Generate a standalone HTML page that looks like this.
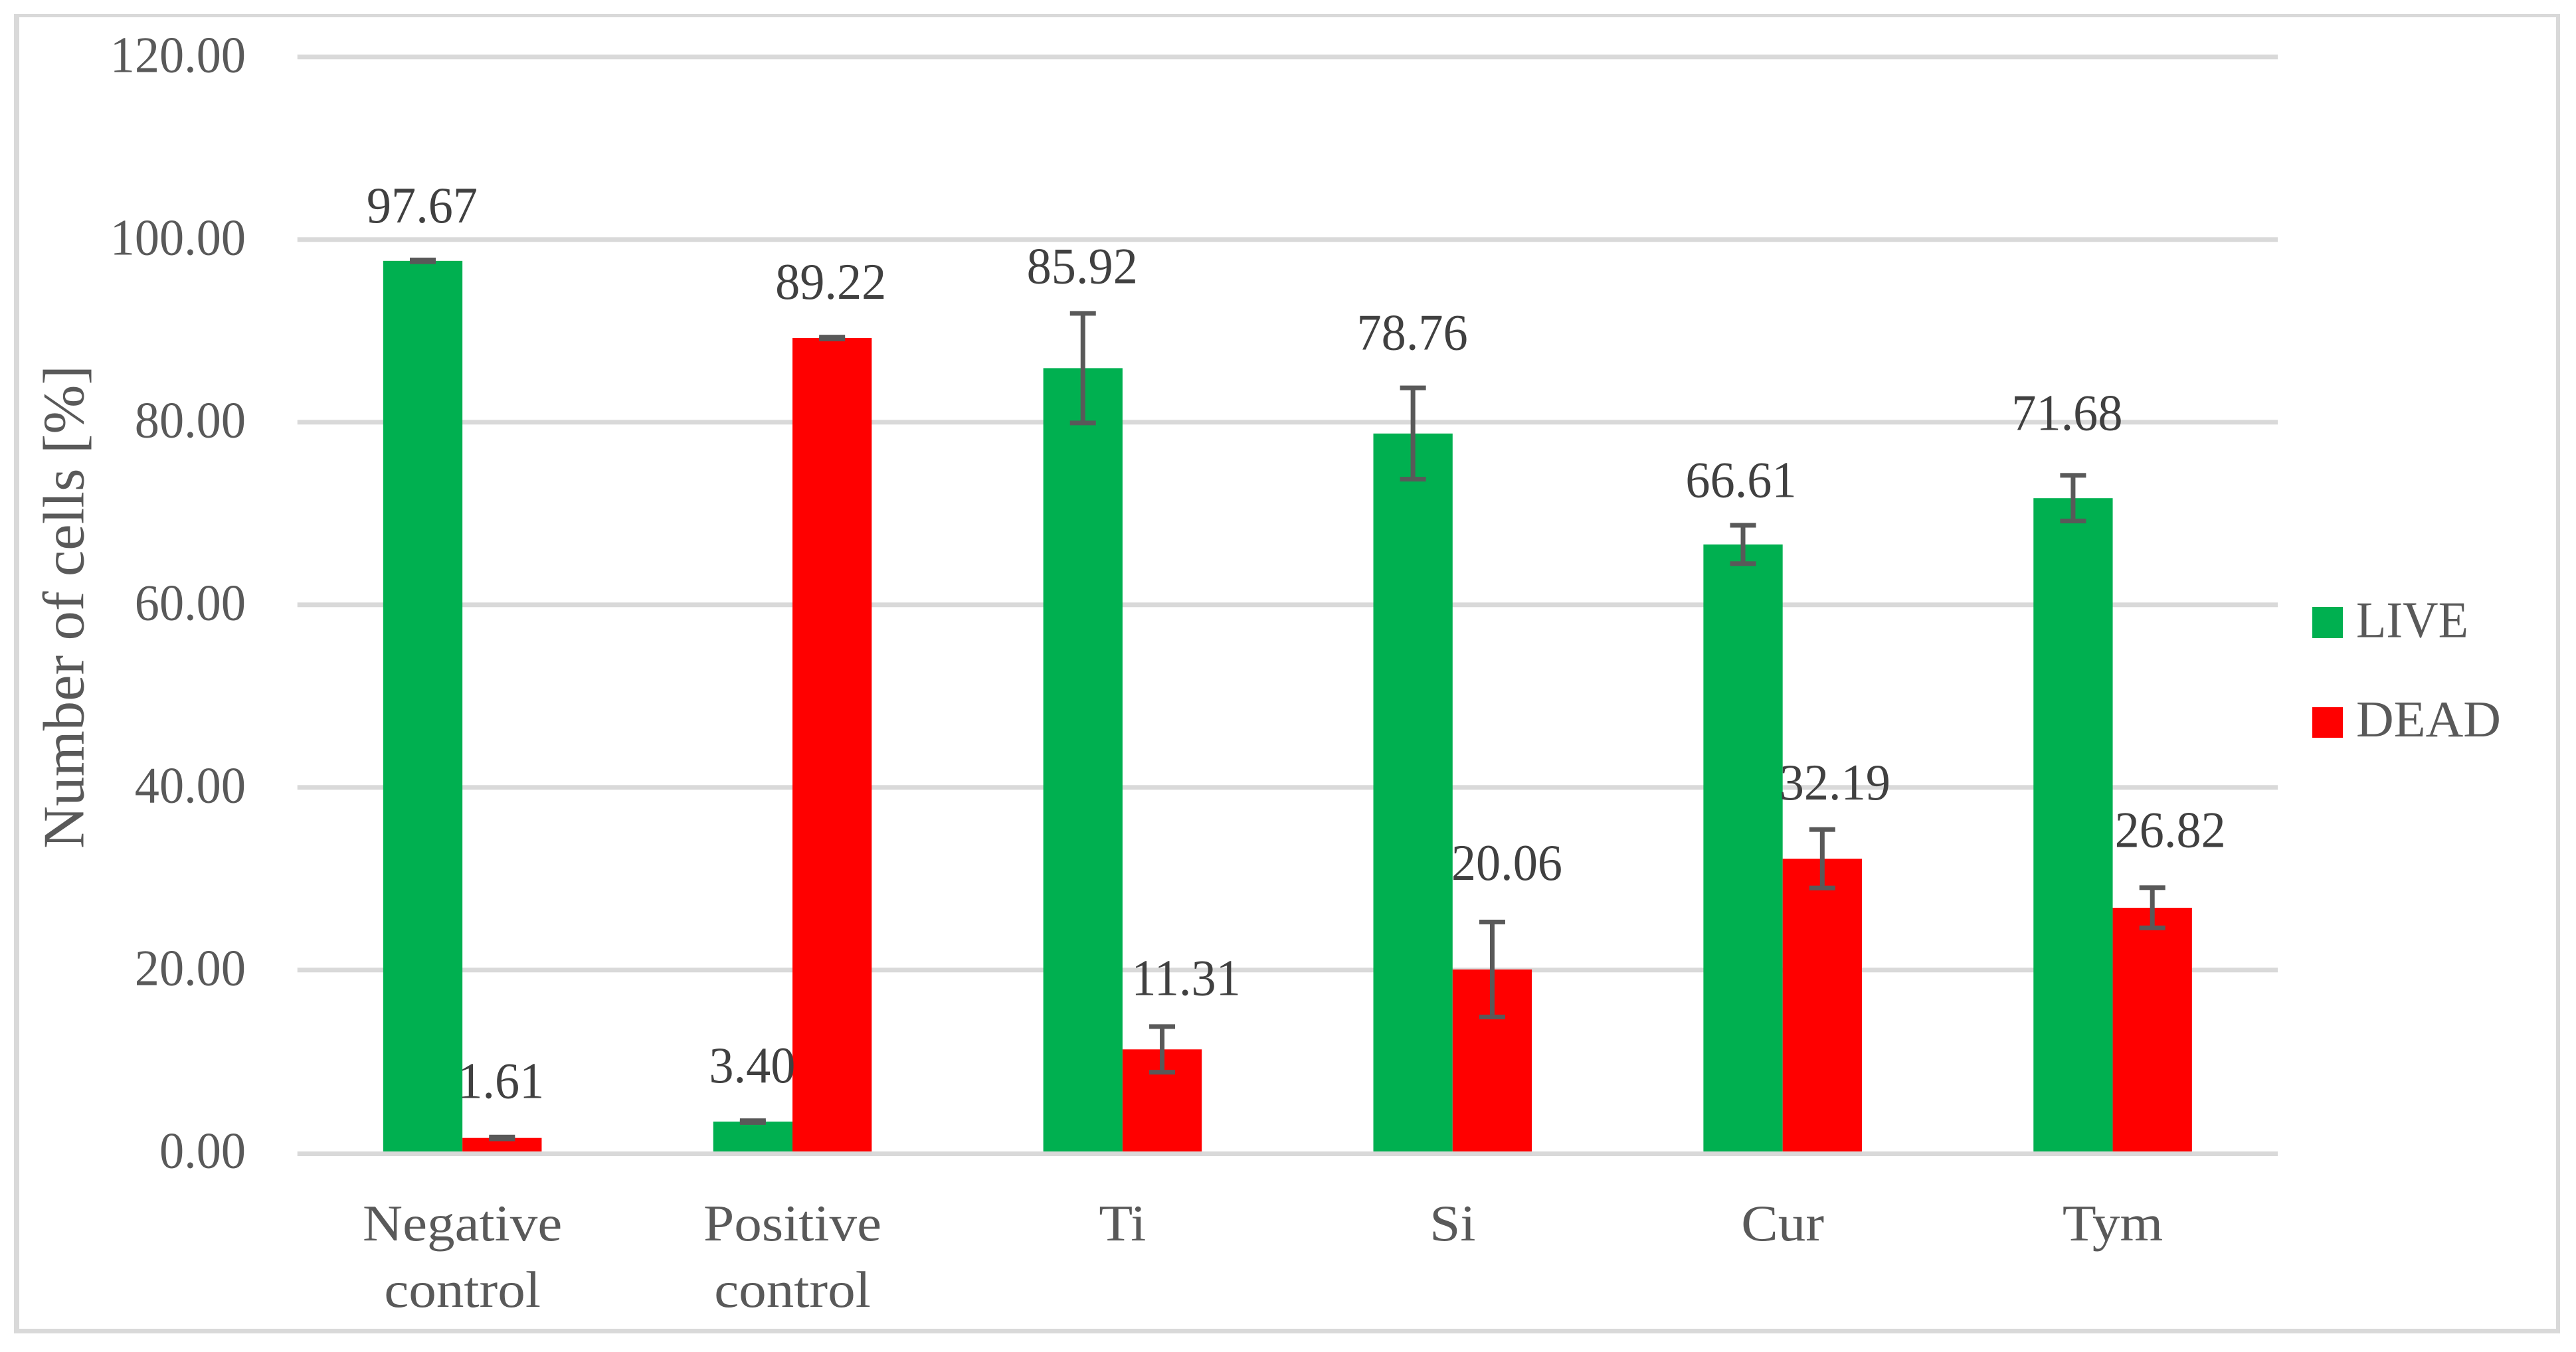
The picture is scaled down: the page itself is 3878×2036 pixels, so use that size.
<!DOCTYPE html>
<html lang="en">
<head>
<meta charset="utf-8">
<title>Number of cells chart</title>
<style>
html,body{margin:0;padding:0;background:#fff;}
svg{display:block;}
text{font-family:"Liberation Serif","DejaVu Serif",serif;}
</style>
</head>
<body>
<svg id="chart" xmlns="http://www.w3.org/2000/svg" width="3878" height="2036" viewBox="0 0 3878 2036">
  <rect x="0" y="0" width="3878" height="2036" fill="#ffffff"/>
  <g fill="#d9d9d9">
    <rect x="21" y="21" width="3833" height="5"/>
    <rect x="21" y="21" width="8" height="1987"/>
    <rect x="3848" y="21" width="6" height="1987"/>
    <rect x="21" y="2001" width="3833" height="7"/>
  </g>
  <g id="grid"></g>
  <g id="bars"></g>
  <g id="errors"></g>
  <g id="axis"></g>
  <g id="ticks"></g>
  <g id="labels"></g>
  <text x="0" y="0" transform="translate(125.5 1278) rotate(-90)" font-size="88" fill="#595959" textLength="728" lengthAdjust="spacingAndGlyphs">Number of cells [%]</text>
  <g>
    <g>
      <rect x="3481" y="914" width="46" height="47" fill="#00b050"/>
      <text x="3547" y="959.5" font-size="77" fill="#595959" textLength="169" lengthAdjust="spacingAndGlyphs">LIVE</text>
    </g>
    <g>
      <rect x="3481" y="1065" width="46" height="46" fill="#ff0000"/>
      <text x="3547" y="1109" font-size="77" fill="#595959" textLength="218" lengthAdjust="spacingAndGlyphs">DEAD</text>
    </g>
  </g>
</svg>
<script>
const categories = [["Negative", "control"], ["Positive", "control"], ["Ti"], ["Si"], ["Cur"], ["Tym"]];
const categoryKeys = ["negative-control", "positive-control", "ti", "si", "cur", "tym"];
const liveValues = [97.67, 3.40, 85.92, 78.76, 66.61, 71.68];
const deadValues = [1.61, 89.22, 11.31, 20.06, 32.19, 26.82];
const liveErrors = [0.1, 0.1, 6.0, 5.0, 2.1, 2.5];
const deadErrors = [0.1, 0.1, 2.5, 5.2, 3.2, 2.2];
const tickValues = [0, 20, 40, 60, 80, 100, 120];
const liveLabelLift = [4.22, 4.3, 9.3, 9.2, 5.2, 7.46];
const deadLabelLift = [4.36, 4.3, 5.95, 9.8, 6.47, 6.65];
const liveLabelShift = [-1, -1, -1, -1, -3, -9];
const deadLabelShift = [-1.5, -2, 36, 22, 19, 27];

const NS = "http://www.w3.org/2000/svg";
const plotLeft = 447.7;
const plotRight = 3429;
const barWidth = 119.3;
const capHalf = 19.5;
const numericSquash = 0.965;
const categoryStretch = 1.08;

function yScale(v) { return 1735.8 - 13.75 * v; }
function xCenter(i) { return plotLeft + (plotRight - plotLeft) / categories.length * (i + 0.5); }

function make(tag, parent) {
  const el = document.createElementNS(NS, tag);
  parent.appendChild(el);
  return el;
}
function setRect(el, x, y, w, h, fill) {
  el.setAttribute("x", x);
  el.setAttribute("y", y);
  el.setAttribute("width", w);
  el.setAttribute("height", h);
  el.setAttribute("fill", fill);
}
function setText(el, str, x, y, anchor, fill, factor) {
  el.textContent = str;
  el.setAttribute("x", x);
  el.setAttribute("y", y);
  el.setAttribute("text-anchor", anchor);
  el.setAttribute("font-size", 77);
  el.setAttribute("fill", fill);
  const w = el.getComputedTextLength();
  el.setAttribute("textLength", (w * factor).toFixed(1));
  el.setAttribute("lengthAdjust", "spacingAndGlyphs");
}

const gridG = document.getElementById("grid");
const barsG = document.getElementById("bars");
const errG = document.getElementById("errors");
const axisG = document.getElementById("axis");
const ticksG = document.getElementById("ticks");
const labelsG = document.getElementById("labels");

tickValues.forEach(function (t) {
  if (t !== 0) {
    const line = make("rect", gridG);
    
    
    setRect(line, plotLeft, yScale(t) - 3.5, plotRight - plotLeft, 7, "#d9d9d9");
  }
  const label = make("text", ticksG);
  
  
  setText(label, t.toFixed(2), 370, yScale(t) + 22.5, "end", "#595959", numericSquash);
});

const axisLine = make("rect", axisG);



function drawSeries(key, values, errors, lifts, shifts, color, sideOffset) {
  values.forEach(function (v, i) {
    const left = xCenter(i) + sideOffset;
    const top = yScale(v);
    const mid = left + barWidth / 2;

    const bar = make("rect", barsG);
    
    
    setRect(bar, left, top, barWidth, yScale(0) - top, color);

    const up = yScale(v + errors[i]);
    const down = yScale(v - errors[i]);

    const stem = make("rect", errG);
    
    
    setRect(stem, mid - 3.5, up, 7, down - up, "#595959");

    const capTop = make("rect", errG);
    
    
    setRect(capTop, mid - capHalf, up - 3.5, capHalf * 2, 7, "#595959");

    const capBottom = make("rect", errG);
    
    
    setRect(capBottom, mid - capHalf, down - 3.5, capHalf * 2, 7, "#595959");

    const label = make("text", labelsG);
    
    
    setText(label, v.toFixed(2), mid + shifts[i], yScale(v + lifts[i]), "middle", "#404040", numericSquash);
  });
}

drawSeries("live", liveValues, liveErrors, liveLabelLift, liveLabelShift, "#00b050", -barWidth);
drawSeries("dead", deadValues, deadErrors, deadLabelLift, deadLabelShift, "#ff0000", 0);

setRect(axisLine, plotLeft, yScale(0) - 1.8, plotRight - plotLeft, 7, "#d9d9d9");

categories.forEach(function (lines, i) {
  lines.forEach(function (line, j) {
    const label = make("text", axisG);
    
    
    setText(label, line, xCenter(i), 1868 + j * 100, "middle", "#595959", categoryStretch);
  });
});
</script>
</body>
</html>
